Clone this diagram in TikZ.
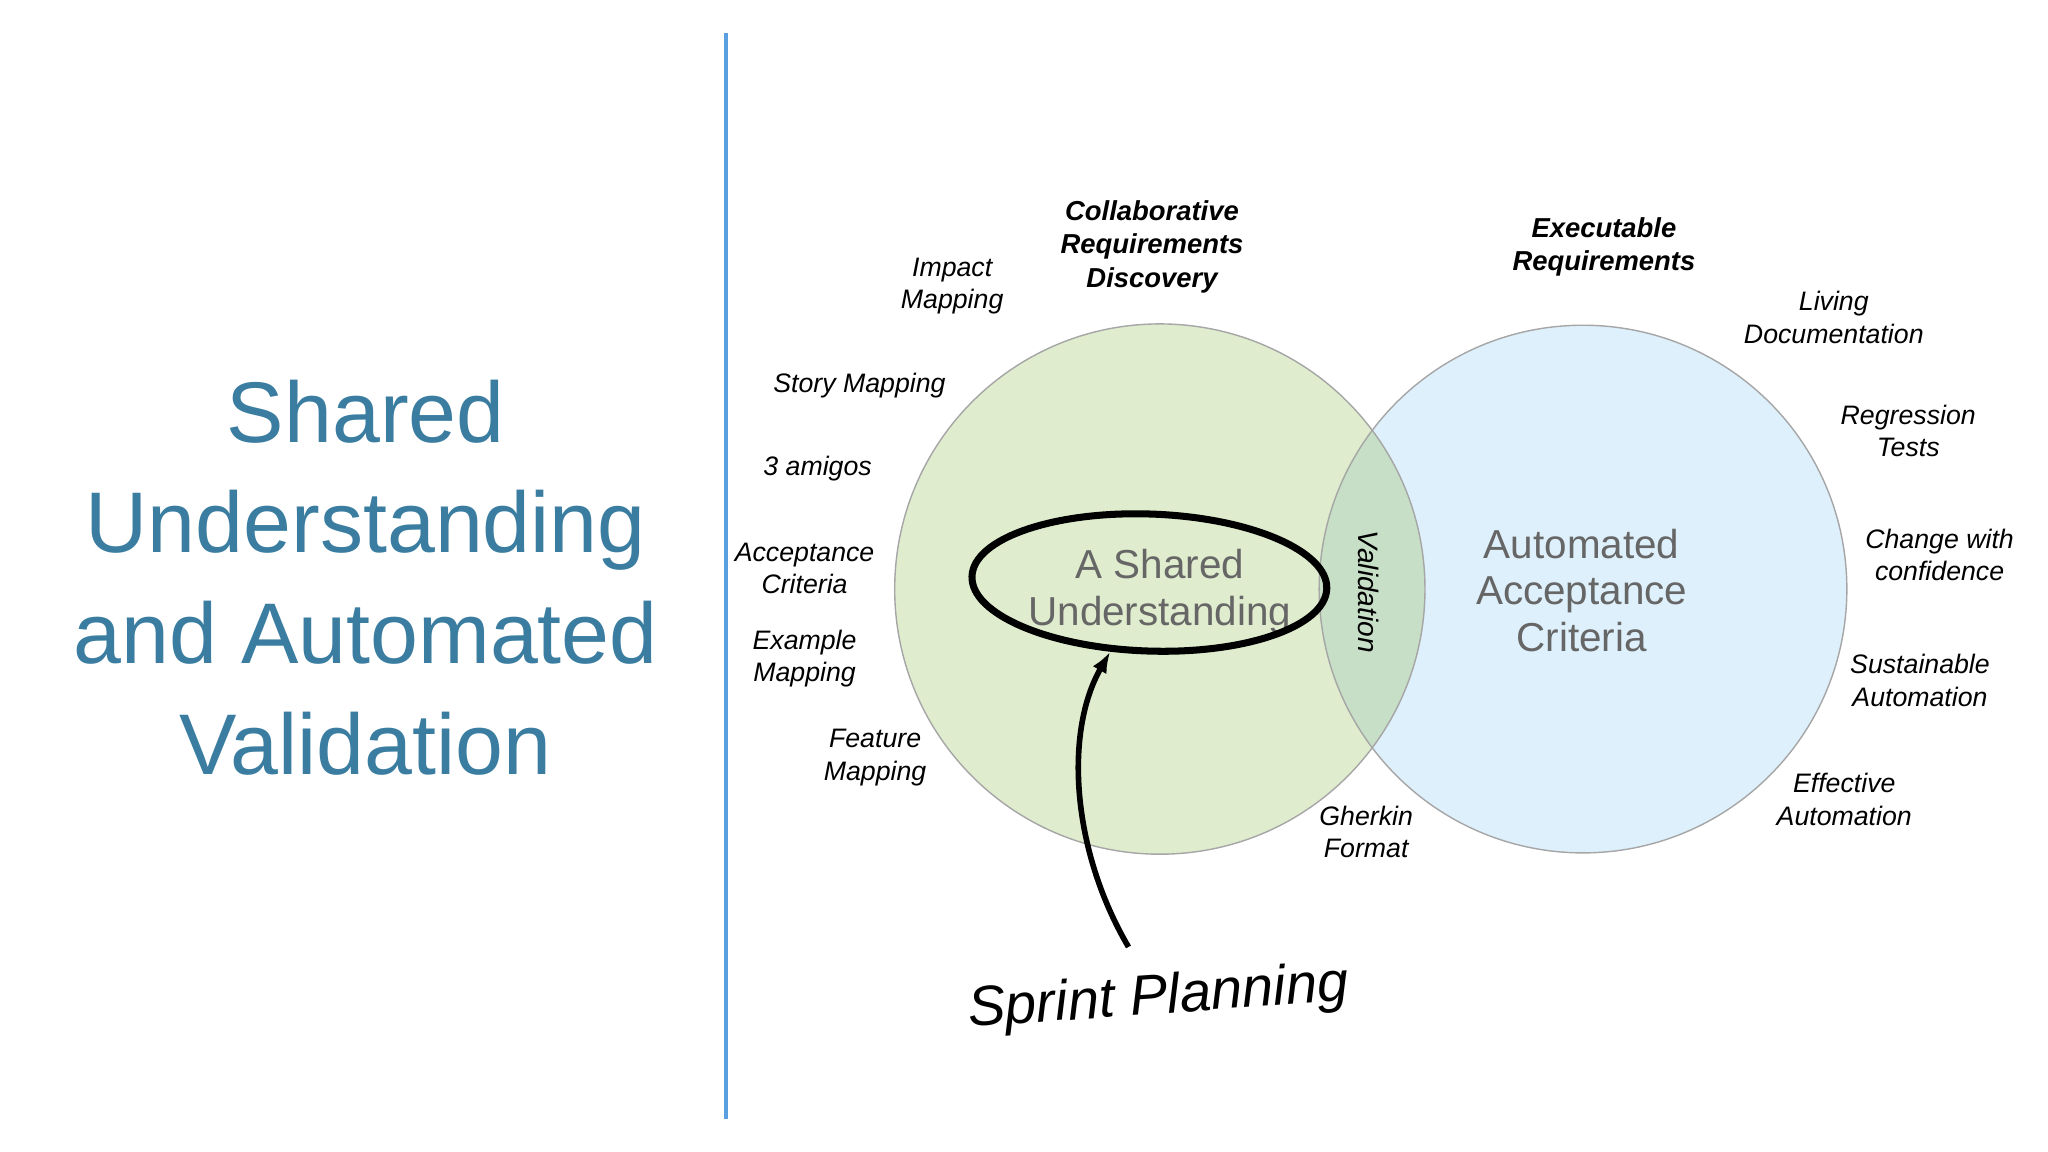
\documentclass[tikz,border=0pt]{standalone}
\usepackage{fontspec}
\setmainfont{Liberation Sans}
\usetikzlibrary{positioning,arrows.meta,shapes.geometric}
\definecolor{titleblue}{HTML}{3A7DA0}
\definecolor{linkblue}{HTML}{5AA0E0}
\definecolor{greenfill}{HTML}{DFECCD}
\definecolor{bluefill}{HTML}{DDF0FB}
\definecolor{overlapfill}{HTML}{C6DFC6}
\definecolor{centergray}{HTML}{666666}
\tikzset{
  practice/.style={font=\fontsize{7.6}{9.2}\selectfont\itshape, align=center},
  heading/.style={font=\fontsize{7.8}{9.6}\selectfont\bfseries\itshape, align=center},
  big/.style={font=\fontsize{11.5}{13.2}\selectfont, text=centergray, align=center},
  title/.style={font=\fontsize{24.5}{31.5}\selectfont, text=titleblue, align=center}
}
\begin{document}
\begin{tikzpicture}[x=0.01306cm,y=-0.01306cm]
    \useasboundingbox (0,0) rectangle (1568,882);

    \draw[linkblue, line width=1pt] (556,25) -- (556,857);
    \node[title] (t) at (280,442) {Shared\\Understanding\\and Automated\\Validation};

    % circles
    \fill[greenfill] (888,451) circle (203);
    \fill[bluefill] (1212,451) circle (202);
    \begin{scope}
        \clip (888,451) circle (203);
        \fill[overlapfill] (1212,451) circle (202);
    \end{scope}
    \draw[gray!70, line width=0.4pt] (888,451) circle (203);
    \draw[gray!70, line width=0.4pt] (1212,451) circle (202);

    \node[heading] (crd) at (882,189) {Collaborative\\Requirements\\Discovery};
    \node[heading] (exr) at (1228,189) {Executable\\Requirements};

    \node[practice] (impact) at (729,219) {Impact\\Mapping};
    \node[practice] (story) at (658,295) {Story Mapping};
    \node[practice] (amigos) at (626,359) {3 amigos};
    \node[practice] (accept) at (616,435) {Acceptance\\Criteria};
    \node[practice] (example) at (616,504) {Example\\Mapping};
    \node[practice] (feature) at (670,580) {Feature\\Mapping};
    \node[practice] (gherkin) at (1046,637) {Gherkin\\Format};

    \node[practice] (living) at (1404,243) {Living\\Documentation};
    \node[practice] (regr) at (1461,330) {Regression\\Tests};
    \node[practice] (change) at (1485,425) {Change with\\confidence};
    \node[practice] (sustain) at (1470,521) {Sustainable\\Automation};
    \node[practice] (effective) at (1412,612) {Effective\\Automation};

    \node[big] (shared) at (888,453) {A Shared\\Understanding};
    \node[big] (auto) at (1211,452) {Automated\\Acceptance\\Criteria};
    \node[practice, font=\fontsize{8}{9}\selectfont\itshape, rotate=-90] (valid) at (1048,453) {Validation};

    % hand-drawn loop
    \node[draw, ellipse, line width=2pt, inner sep=0pt,
          minimum width=3.55cm, minimum height=1.37cm, rotate=-2] (loop) at (880,446) {};

    \node[font=\fontsize{16}{18}\selectfont\itshape, rotate=4] (sprint) at (887,765) {Sprint Planning};
    \coordinate (tail) at (864,725);
    \draw[-{Latex[length=6pt]}, line width=1.6pt] (tail) .. controls (820,650) and (815,560) .. (850,499);
\end{tikzpicture}
\end{document}
